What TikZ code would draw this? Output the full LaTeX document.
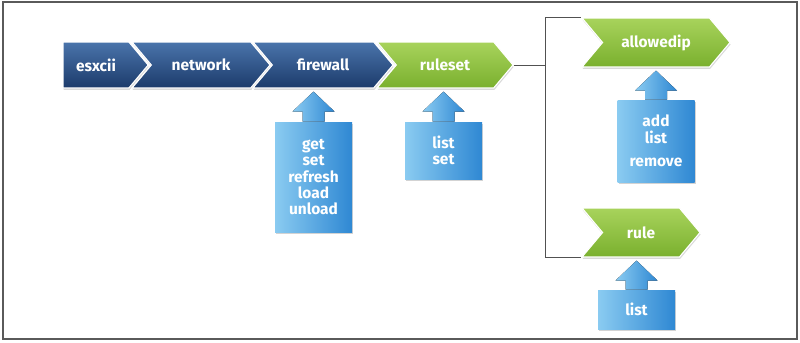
\documentclass[tikz,border=0pt]{standalone}
\usepackage{fontspec}
\setmainfont{Fira Sans}
\usetikzlibrary{calc, shapes.symbols, shadows}

\definecolor{navytop}{HTML}{4A74AB}
\definecolor{navybot}{HTML}{1C3B6B}
\definecolor{leaftop}{HTML}{A8D35C}
\definecolor{leafbot}{HTML}{7AB02E}
\definecolor{skyleft}{HTML}{8ACBF1}
\definecolor{skyright}{HTML}{2F88D3}
\definecolor{frame}{HTML}{5A5A5A}

\begin{document}
\begin{tikzpicture}[x=0.025cm, y=-0.025cm,
  label font/.style={font=\bfseries\fontsize{11}{11.7}\selectfont},
  cmd/.style={shape=signal, signal to=east, signal from=west,
    signal pointer angle=100, minimum height=46*0.025cm, inner xsep=0pt,
    draw=white, line width=0.8pt, top color=navytop, bottom color=navybot,
    text=white, label font,
    drop shadow={shadow xshift=0.4pt, shadow yshift=-1.4pt, opacity=0.3}},
  leaf/.style={cmd, top color=leaftop, bottom color=leafbot},
  opbox/.style={rectangle, minimum width=77*0.025cm, inner sep=2pt,
    left color=skyleft, right color=skyright, text=white, align=center,
    label font,
    drop shadow={shadow xshift=0.8pt, shadow yshift=-1.2pt, opacity=0.35}},
  upfill/.style={left color=skyleft, right color=skyright},
  link/.style={draw=frame!90!black, line width=0.7pt}]
  \useasboundingbox (0,0) rectangle (800,342);
  \draw[frame, line width=0.9pt] (3,2) rectangle (797,339);

  % command chain
  \node[cmd, signal from=nowhere, minimum width=85*0.025cm] (esxcii) at (96,65) {esxcii};
  \node[cmd, minimum width=138*0.025cm] (network) at (201,65) {network};
  \node[cmd, minimum width=140*0.025cm] (firewall) at (323,65) {firewall};
  \node[leaf, minimum width=136*0.025cm] (ruleset) at (445,65) {ruleset};
  \node[leaf, minimum height=49*0.025cm, minimum width=148*0.025cm] (allowedip) at (656,42.5) {allowedip};
  \node[leaf, minimum height=49*0.025cm, minimum width=118*0.025cm] (rule) at (641,232.5) {rule};

  % branch
  \coordinate (branch) at ($(allowedip.north west)+(-35,0)$);
  \draw[link] (ruleset.east) -- (ruleset.east -| branch);
  \draw[link] (allowedip.north west) -- (branch) |- (rule.south west);

  % operations
  \node[opbox, minimum height=110*0.025cm] (fwops) at (313.5,177) {get\\set\\refresh\\load\\unload};
  \node[opbox, minimum height=57*0.025cm] (rsops) at (443.5,150.5) {list\\set};
  \node[opbox, minimum height=82*0.025cm] (adops) at (656,141) {add\\list\\[5pt]remove};
  \node[opbox, minimum height=39*0.025cm] (ruops) at (636.5,309.5) {list};

  % up arrows
  \foreach \b/\t in {fwops/firewall, rsops/ruleset, adops/allowedip, ruops/rule} {
    \coordinate (tip) at ($(\b.north |- \t.south)+(0,3)$);
    \fill[upfill] ($(\b.north)+(-11,0)$) -- ($(tip)+(-11,20)$) -- ($(tip)+(-21,20)$)
      -- (tip) -- ($(tip)+(21,20)$) -- ($(tip)+(11,20)$) -- ($(\b.north)+(11,0)$) -- cycle;
  }
\end{tikzpicture}
\end{document}
